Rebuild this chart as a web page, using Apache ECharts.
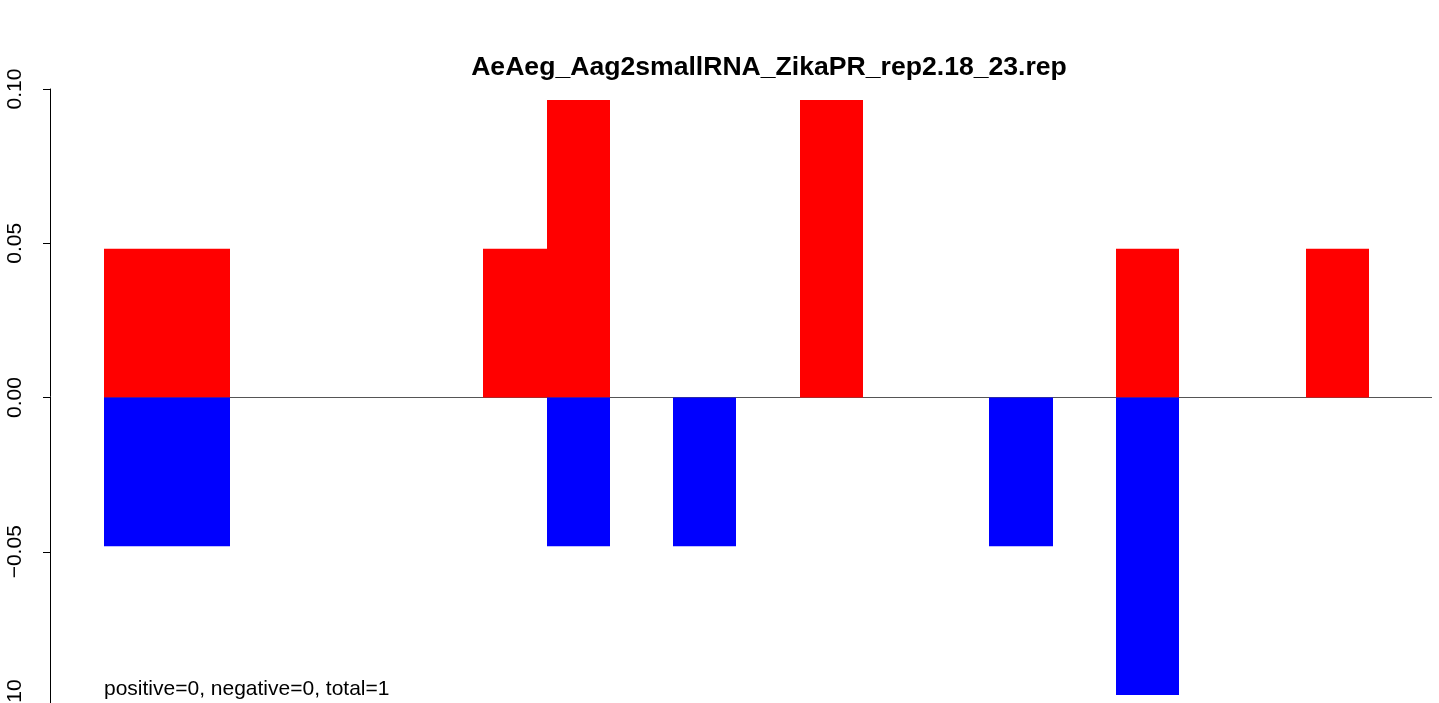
<!DOCTYPE html>
<html>
<head>
<meta charset="utf-8">
<script src="https://cdn.jsdelivr.net/npm/echarts@6/dist/echarts.min.js"></script>
<style>
  html, body { margin: 0; padding: 0; background: #fff; }
  #main { width: 1439px; height: 703px; }
</style>
</head>
<body>
<div id="main"></div>
<script>
// one slot per position, 20 slots
var slots = [0,1,2,3,4,5,6,7,8,9,10,11,12,13,14,15,16,17,18,19];
var positive = [0.0482,0.0482,0,0,0,0,0.0482,0.0964,0,0,0,0.0964,0,0,0,0,0.0482,0,0,0.0482];
var negative = [-0.0482,-0.0482,0,0,0,0,0,-0.0482,0,-0.0482,0,0,0,0,-0.0482,0,-0.0964,0,0,0];
var yTicks = [-0.10, -0.05, 0.00, 0.05, 0.10];

var chartDom = document.getElementById('main');
var myChart = echarts.init(chartDom);

function rectItem(color) {
  return function (params, api) {
    var i = api.value(0);
    var v = api.value(1);
    if (!v) return null;
    var p0 = api.coord([i, 0]);
    var p1 = api.coord([i + 1, v]);
    var x0 = Math.round(p0[0]), x1 = Math.round(p1[0]);
    return {
      type: 'rect',
      shape: {
        x: x0,
        y: Math.min(p0[1], p1[1]),
        width: x1 - x0,
        height: Math.abs(p1[1] - p0[1])
      },
      style: { fill: color }
    };
  };
}

var option = {
  animation: false,
  title: {
    text: 'AeAeg_Aag2smallRNA_ZikaPR_rep2.18_23.rep',
    left: 764,
    top: 49,
    textAlign: 'center',
    textStyle: { fontFamily: 'Liberation Sans', fontSize: 26.6, fontWeight: 'bold', color: '#000' }
  },
  graphic: [{
    type: 'text',
    left: 104,
    top: 679,
    style: { text: 'positive=0, negative=0, total=1', font: '21px "Liberation Sans"', fill: '#000' }
  }],
  grid: { left: 104, right: 7, top: 89, bottom: -3, outerBoundsMode: 'none', containLabel: false },
  xAxis: {
    type: 'value', min: 0, max: 21, show: false
  },
  yAxis: {
    type: 'value', min: -0.1, max: 0.1, interval: 0.05, offset: 54,
    splitLine: { show: false },
    axisLine: { show: true, onZero: false, lineStyle: { color: '#000', width: 1 } },
    axisTick: { show: true, length: 7, lineStyle: { color: '#000' } },
    axisLabel: {
      rotate: 90, margin: 24,
      fontFamily: 'Liberation Sans', fontSize: 21, color: '#000',
      formatter: function (v) {
        var s = Math.abs(v).toFixed(2);
        return (v < -1e-9 ? '\u2212' : '') + s;
      }
    }
  },
  series: [
    {
      type: 'line', z: 1, symbol: 'none', silent: true,
      lineStyle: { color: '#555', width: 1 },
      data: [[0, 0], [21, 0]]
    },
    {
      type: 'custom', z: 2, renderItem: rectItem('#ff0000'),
      data: slots.map(function (s, k) { return [s, positive[k]]; })
    },
    {
      type: 'custom', z: 2, renderItem: rectItem('#0000ff'),
      data: slots.map(function (s, k) { return [s, negative[k]]; })
    }
  ]
};
option && myChart.setOption(option);
</script>
</body>
</html>
